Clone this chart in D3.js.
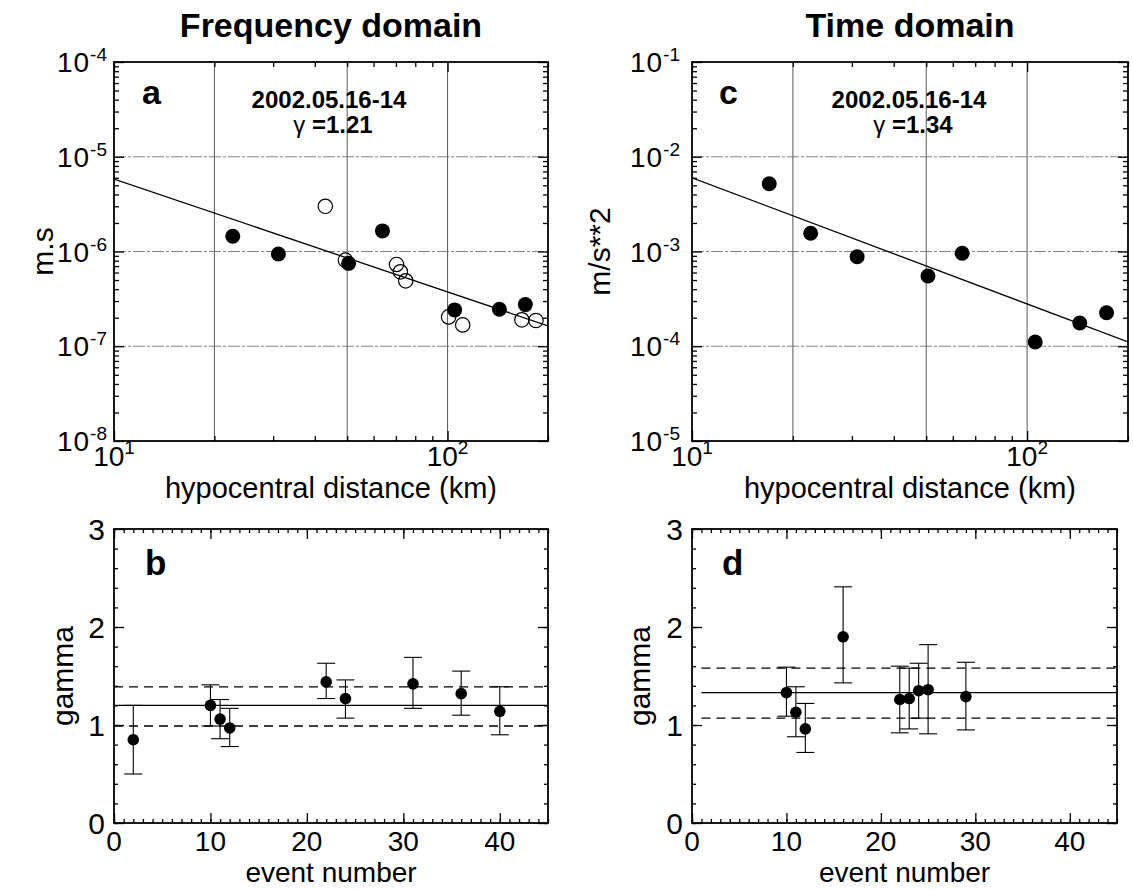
<!DOCTYPE html>
<html><head><meta charset="utf-8">
<script src="https://cdn.jsdelivr.net/npm/d3@7"></script>
<style>
body{margin:0;background:#fff}
text{font-family:"Liberation Sans",Arial,Helvetica,sans-serif;fill:#000}
</style>
</head><body>
<svg id="c" width="1133" height="890"></svg>
<script>
// ---------------- data ----------------
const panelTitles = ["Frequency domain", "Time domain"];
const eventLabel = "2002.05.16-14";

// panel a (frequency domain)
const freqDistFilled = [22.7, 31.1, 50.5, 63.8, 105, 143, 171];
const freqAmpFilled  = [1.45e-6, 9.4e-7, 7.5e-7, 1.65e-6, 2.42e-7, 2.46e-7, 2.75e-7];
const freqDistOpen   = [43, 49.4, 70.3, 72.2, 74.9, 100.7, 111, 167, 184];
const freqAmpOpen    = [3.0e-6, 8.1e-7, 7.3e-7, 6.1e-7, 4.9e-7, 2.04e-7, 1.68e-7, 1.9e-7, 1.87e-7];
const freqFitDist    = [10, 200];
const freqFitAmp     = [5.8e-6, 1.64e-7];
const freqGamma      = "1.21";
const freqYExponents = [-8, -7, -6, -5, -4];

// panel c (time domain)
const timeDist       = [17.0, 22.6, 31.1, 50.6, 64, 105.7, 143.6, 172.6];
const timeAmp        = [5.18e-3, 1.56e-3, 8.8e-4, 5.52e-4, 9.58e-4, 1.11e-4, 1.76e-4, 2.26e-4];
const timeFitDist    = [10, 200];
const timeFitAmp     = [6.0e-3, 1.11e-4];
const timeGamma      = "1.34";
const timeYExponents = [-5, -4, -3, -2, -1];

const distDomain    = [10, 200];
const distGrid      = [20, 50, 100];
const distExponents = [1, 2];

// panel b (frequency domain gamma per event)
const eventsB     = [2, 10, 11, 12, 22, 24, 31, 36, 40];
const gammaB      = [0.85, 1.20, 1.06, 0.97, 1.44, 1.27, 1.42, 1.32, 1.14];
const gammaBLow   = [0.50, 0.99, 0.86, 0.78, 1.27, 1.07, 1.17, 1.10, 0.90];
const gammaBHigh  = [1.20, 1.41, 1.26, 1.17, 1.63, 1.46, 1.69, 1.55, 1.39];
const meanB       = 1.20;
const bandB       = [0.99, 1.39];
const lineRangeB  = [0, 45];

// panel d (time domain gamma per event)
const eventsD     = [10, 11, 12, 16, 22, 23, 24, 25, 29];
const gammaD      = [1.33, 1.13, 0.96, 1.90, 1.26, 1.27, 1.35, 1.36, 1.29];
const gammaDLow   = [1.09, 0.88, 0.72, 1.43, 0.92, 0.96, 1.07, 0.91, 0.95];
const gammaDHigh  = [1.59, 1.39, 1.22, 2.41, 1.60, 1.58, 1.63, 1.82, 1.64];
const meanD       = 1.33;
const bandD       = [1.07, 1.58];
const lineRangeD  = [1, 45];

const eventDomain = [0, 45];
const eventTicks  = [0, 10, 20, 30, 40];
const gammaDomain = [0, 3];
const gammaTicks  = [0, 1, 2, 3];

// ---------------- drawing ----------------
const svg = d3.select("#c");

function frameTicks(g, x, y, w, h, xMaj, xMin, yMaj, yMin, majLen, minLen) {
  const mk = (axisFn, scale, vals, len, tr) => {
    const a = axisFn(scale).tickValues(vals).tickSize(len).tickFormat("").tickSizeOuter(0);
    const gg = g.append("g").attr("transform", tr).call(a);
    gg.select(".domain").remove();
    gg.selectAll(".tick line").attr("stroke", "#000").attr("stroke-width", 1.3);
  };
  mk(d3.axisBottom, x, xMaj, -majLen, `translate(0,${h})`);
  mk(d3.axisBottom, x, xMin, -minLen, `translate(0,${h})`);
  mk(d3.axisTop, x, xMaj, -majLen, `translate(0,0)`);
  mk(d3.axisTop, x, xMin, -minLen, `translate(0,0)`);
  mk(d3.axisLeft, y, yMaj, -majLen, `translate(0,0)`);
  mk(d3.axisLeft, y, yMin, -minLen, `translate(0,0)`);
  mk(d3.axisRight, y, yMaj, -majLen, `translate(${w},0)`);
  mk(d3.axisRight, y, yMin, -minLen, `translate(${w},0)`);
}

function logPanel(cfg) {
  const w = cfg.right - cfg.left, h = cfg.bottom - cfg.top;
  const g = svg.append("g").attr("transform", `translate(${cfg.left},${cfg.top})`);
  const yExp = cfg.yExp;
  const x = d3.scaleLog().domain(distDomain).range([0, w]);
  const y = d3.scaleLog().domain([Math.pow(10, yExp[0]), Math.pow(10, yExp[yExp.length-1])]).range([h, 0]);

  // grid
  g.selectAll(".vg").data(distGrid).join("line")
    .attr("x1", d => x(d)).attr("x2", d => x(d)).attr("y1", 0).attr("y2", h)
    .attr("stroke", "#444").attr("stroke-width", 0.9);
  g.selectAll(".hg").data(yExp.slice(1, -1)).join("line")
    .attr("x1", 0).attr("x2", w).attr("y1", d => y(Math.pow(10, d))).attr("y2", d => y(Math.pow(10, d)))
    .attr("stroke", "#777").attr("stroke-width", 0.9).attr("stroke-dasharray", "12,2,3,2");

  // ticks
  const isPow = v => Math.abs(Math.log10(v) - Math.round(Math.log10(v))) < 1e-9;
  const xt = x.ticks(), yt = y.ticks();
  frameTicks(g, x, y, w, h, xt.filter(isPow), xt.filter(v => !isPow(v)),
             yt.filter(isPow), yt.filter(v => !isPow(v)), 10, 5);

  // fit line
  const clip = "clip" + cfg.id;
  g.append("clipPath").attr("id", clip).append("rect").attr("width", w).attr("height", h);
  g.append("path").datum(d3.zip(cfg.fitX, cfg.fitY))
    .attr("d", d3.line().x(d => x(d[0])).y(d => y(d[1])))
    .attr("fill", "none").attr("stroke", "#000").attr("stroke-width", 1.3)
    .attr("clip-path", `url(#${clip})`);

  // open circles
  if (cfg.openX) {
    g.selectAll(".op").data(d3.zip(cfg.openX, cfg.openY)).join("circle")
      .attr("cx", d => x(d[0])).attr("cy", d => y(d[1])).attr("r", 7.2)
      .attr("fill", "none").attr("stroke", "#000").attr("stroke-width", 1.2);
  }
  g.selectAll(".fp").data(d3.zip(cfg.fillX, cfg.fillY)).join("circle")
    .attr("cx", d => x(d[0])).attr("cy", d => y(d[1])).attr("r", 7.5).attr("fill", "#000");

  // frame
  g.append("rect").attr("width", w).attr("height", h).attr("fill", "none")
    .attr("stroke", "#000").attr("stroke-width", 1.8);

  // y tick labels
  yExp.forEach(e => {
    const t = g.append("text").attr("x", -cfg.yLabGap).attr("y", y(Math.pow(10, e)) + 10)
      .attr("text-anchor", "end");
    t.append("tspan").attr("font-size", 28).attr("letter-spacing", 1).text("10");
    t.append("tspan").attr("font-size", 19).attr("dy", -11).text(String(e));
  });
  // x tick labels
  distExponents.forEach(e => {
    const t = g.append("text").attr("x", x(Math.pow(10, e))).attr("y", h + 25)
      .attr("text-anchor", "middle");
    t.append("tspan").attr("font-size", 28).text("10");
    t.append("tspan").attr("font-size", 19).attr("dy", -12).text(String(e));
  });
  // axis titles
  g.append("text").attr("x", w / 2).attr("y", h + 57).attr("text-anchor", "middle")
    .attr("font-size", 29).text("hypocentral distance (km)");
  g.append("text").attr("transform", `translate(${cfg.yTitleX - cfg.left},${h / 2}) rotate(-90)`)
    .attr("text-anchor", "middle").attr("font-size", 30).text(cfg.yTitle);

  // panel letter and annotation
  g.append("text").attr("x", cfg.letterX - cfg.left).attr("y", 104 - cfg.top)
    .attr("font-size", 34).attr("font-weight", "bold").text(cfg.letter);
  g.append("text").attr("x", w / 2 + cfg.annDx).attr("y", 108 - cfg.top).attr("text-anchor", "middle")
    .attr("font-size", 24).attr("font-weight", "bold").text(eventLabel);
  const gt = g.append("text").attr("x", w / 2 + cfg.annDx + 4).attr("y", 133 - cfg.top).attr("text-anchor", "middle")
    .attr("font-size", 24);
  gt.append("tspan").text("\u03b3 ");
  gt.append("tspan").attr("font-weight", "bold").text("=" + cfg.gamma);

  // title
  svg.append("text").attr("x", cfg.left + w / 2).attr("y", 37).attr("text-anchor", "middle")
    .attr("font-size", 34).attr("font-weight", "bold").text(cfg.title);
}

function linPanel(cfg) {
  const w = cfg.right - cfg.left, h = cfg.bottom - cfg.top;
  const g = svg.append("g").attr("transform", `translate(${cfg.left},${cfg.top})`);
  const x = d3.scaleLinear().domain(eventDomain).range([0, w]);
  const y = d3.scaleLinear().domain(gammaDomain).range([h, 0]);

  frameTicks(g, x, y, w, h, eventTicks, d3.range(eventDomain[0], eventDomain[1] + 1, 1),
             gammaTicks, d3.range(0, 15).map(i => i * 0.2), 10, 4);

  // mean and band lines
  g.append("line").attr("x1", x(cfg.lineRange[0])).attr("x2", x(cfg.lineRange[1]))
    .attr("y1", y(cfg.mean)).attr("y2", y(cfg.mean)).attr("stroke", "#000").attr("stroke-width", 1.1);
  g.selectAll(".band").data(cfg.band).join("line")
    .attr("x1", x(cfg.lineRange[0])).attr("x2", x(cfg.lineRange[1]))
    .attr("y1", d => y(d)).attr("y2", d => y(d))
    .attr("stroke", "#000").attr("stroke-width", 1.3).attr("stroke-dasharray", "9,6");

  const rows = cfg.ev.map((e, i) => ({e, v: cfg.val[i], lo: cfg.lo[i], hi: cfg.hi[i]}));
  const cap = 9;
  g.selectAll(".eb").data(rows).join("line")
    .attr("x1", d => x(d.e)).attr("x2", d => x(d.e)).attr("y1", d => y(d.lo)).attr("y2", d => y(d.hi))
    .attr("stroke", "#000").attr("stroke-width", 1.1);
  g.selectAll(".ct").data(rows).join("line")
    .attr("x1", d => x(d.e) - cap).attr("x2", d => x(d.e) + cap).attr("y1", d => y(d.hi)).attr("y2", d => y(d.hi))
    .attr("stroke", "#000").attr("stroke-width", 1.1);
  g.selectAll(".cb").data(rows).join("line")
    .attr("x1", d => x(d.e) - cap).attr("x2", d => x(d.e) + cap).attr("y1", d => y(d.lo)).attr("y2", d => y(d.lo))
    .attr("stroke", "#000").attr("stroke-width", 1.1);
  g.selectAll(".dt").data(rows).join("circle")
    .attr("cx", d => x(d.e)).attr("cy", d => y(d.v)).attr("r", 5.8).attr("fill", "#000");

  g.append("rect").attr("width", w).attr("height", h).attr("fill", "none")
    .attr("stroke", "#000").attr("stroke-width", 1.8);

  gammaTicks.forEach(v => {
    g.append("text").attr("x", -9).attr("y", y(v) + 11).attr("text-anchor", "end")
      .attr("font-size", 30).text(String(v));
  });
  eventTicks.forEach(v => {
    g.append("text").attr("x", x(v)).attr("y", h + 28).attr("text-anchor", "middle")
      .attr("font-size", 28).text(String(v));
  });
  g.append("text").attr("x", w / 2).attr("y", h + 59).attr("text-anchor", "middle")
    .attr("font-size", 28).text("event number");
  g.append("text").attr("transform", `translate(${cfg.yTitleX - cfg.left},${h / 2}) rotate(-90)`)
    .attr("text-anchor", "middle").attr("font-size", 30).text("gamma");
  g.append("text").attr("x", cfg.letterX - cfg.left).attr("y", 575 - cfg.top)
    .attr("font-size", 35).attr("font-weight", "bold").text(cfg.letter);
}

logPanel({id: "a", left: 114, right: 548, top: 62, bottom: 441, yExp: freqYExponents, yLabGap: 7,
  fitX: freqFitDist, fitY: freqFitAmp, fillX: freqDistFilled, fillY: freqAmpFilled,
  openX: freqDistOpen, openY: freqAmpOpen, yTitle: "m.s", yTitleX: 53,
  letter: "a", letterX: 142, gamma: freqGamma, title: panelTitles[0], annDx: -2});
logPanel({id: "c", left: 692, right: 1128, top: 62, bottom: 441, yExp: timeYExponents, yLabGap: 12,
  fitX: timeFitDist, fitY: timeFitAmp, fillX: timeDist, fillY: timeAmp,
  yTitle: "m/s**2", yTitleX: 610,
  letter: "c", letterX: 719, gamma: timeGamma, title: panelTitles[1], annDx: -1});
linPanel({left: 114, right: 548, top: 529, bottom: 823, ev: eventsB, val: gammaB, lo: gammaBLow, hi: gammaBHigh,
  mean: meanB, band: bandB, lineRange: lineRangeB, yTitleX: 73, letter: "b", letterX: 145});
linPanel({left: 692, right: 1117, top: 529, bottom: 823, ev: eventsD, val: gammaD, lo: gammaDLow, hi: gammaDHigh,
  mean: meanD, band: bandD, lineRange: lineRangeD, yTitleX: 650, letter: "d", letterX: 722});
</script>
</body></html>
